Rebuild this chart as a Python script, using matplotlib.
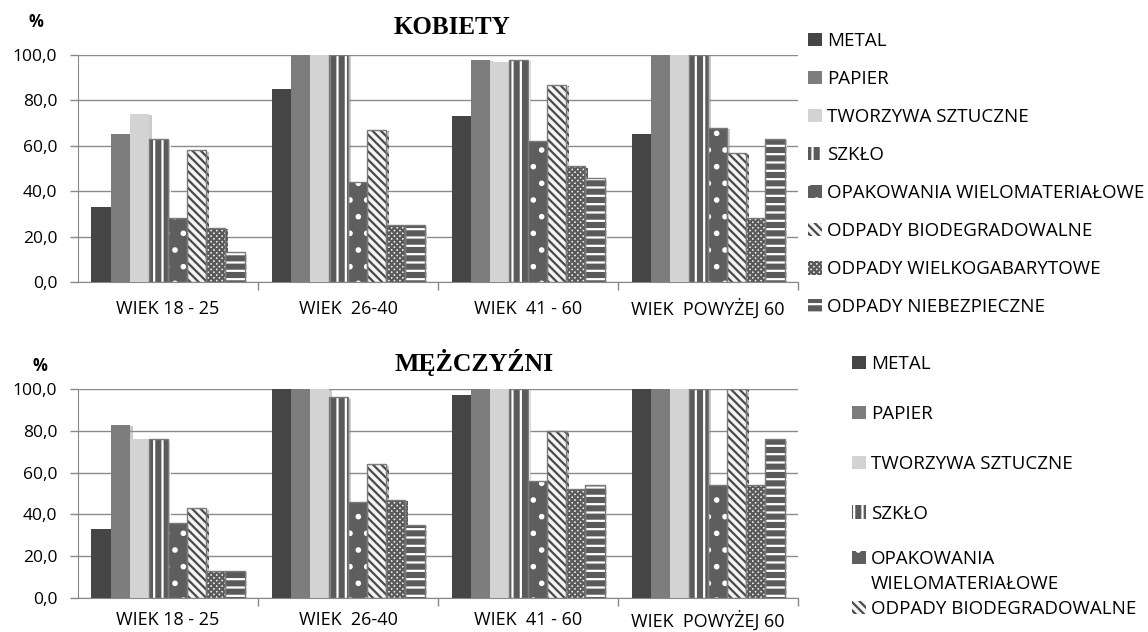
import matplotlib
matplotlib.use("Agg")
import matplotlib.pyplot as plt
import matplotlib.patheffects as pe
from matplotlib.patches import Patch
from matplotlib.ticker import FuncFormatter, FixedLocator
import numpy as np

plt.rcParams['font.family'] = ['Open Sans', 'DejaVu Sans']
plt.rcParams['hatch.linewidth'] = 1.6

categories = ["WIEK 18 - 25", "WIEK  26-40", "WIEK  41 - 60", "WIEK  POWYŻEJ 60"]
series = ["METAL", "PAPIER", "TWORZYWA SZTUCZNE", "SZKŁO",
          "OPAKOWANIA WIELOMATERIAŁOWE", "ODPADY BIODEGRADOWALNE",
          "ODPADY WIELKOGABARYTOWE", "ODPADY NIEBEZPIECZNE"]

# values per series, across the four age groups
kobiety = {
    "METAL":                       [33, 85, 73, 65],
    "PAPIER":                      [65, 100, 98, 100],
    "TWORZYWA SZTUCZNE":           [74, 100, 97, 100],
    "SZKŁO":                       [63, 100, 98, 100],
    "OPAKOWANIA WIELOMATERIAŁOWE": [28, 44, 62, 68],
    "ODPADY BIODEGRADOWALNE":      [58, 67, 87, 57],
    "ODPADY WIELKOGABARYTOWE":     [24, 25, 51, 28],
    "ODPADY NIEBEZPIECZNE":        [13, 25, 46, 63],
}
mezczyzni = {
    "METAL":                       [33, 100, 97, 100],
    "PAPIER":                      [83, 100, 100, 100],
    "TWORZYWA SZTUCZNE":           [76, 100, 100, 100],
    "SZKŁO":                       [76, 96, 100, 100],
    "OPAKOWANIA WIELOMATERIAŁOWE": [36, 46, 56, 54],
    "ODPADY BIODEGRADOWALNE":      [43, 64, 80, 100],
    "ODPADY WIELKOGABARYTOWE":     [13, 47, 52, 54],
    "ODPADY NIEBEZPIECZNE":        [13, 35, 54, 76],
}
yticks = [0, 20, 40, 60, 80, 100]

# style: face, hatch, hatch color
styles = {
    "METAL":                       ("#454545", None, None),
    "PAPIER":                      ("#7d7d7d", None, None),
    "TWORZYWA SZTUCZNE":           ("#d3d3d3", None, None),
    "SZKŁO":                       ("#5a5a5a", "||", "white"),
    "OPAKOWANIA WIELOMATERIAŁOWE": ("#5e5e5e", ".", "white"),
    "ODPADY BIODEGRADOWALNE":      ("#f4f4f4", "\\\\\\\\", "#4a4a4a"),
    "ODPADY WIELKOGABARYTOWE":     ("#f0f0f0", "xxxxxx", "#5a5a5a"),
    "ODPADY NIEBEZPIECZNE":        ("#5a5a5a", "--", "white"),
}

fig = plt.figure(figsize=(11.48, 6.32), dpi=100)
W, H = 1148, 632

def draw(ax, data, xpad):
    x = np.arange(len(categories))
    n = len(series)
    bw = 0.85 / n
    shadow = [pe.SimplePatchShadow(offset=(2, -1), shadow_rgbFace="#999999", alpha=0.5), pe.Normal()]
    for i, s in enumerate(series):
        face, hatch, hc = styles[s]
        pos = x - 0.425 + bw * (i + 0.5)
        if hatch is None:
            ax.bar(pos, data[s], width=bw, color=face, edgecolor="none",
                   zorder=3, path_effects=shadow)
        else:
            ax.bar(pos, data[s], width=bw, color=face, edgecolor=hc, hatch=hatch,
                   linewidth=0, zorder=3, path_effects=shadow)
            ax.bar(pos, data[s], width=bw, fill=False, edgecolor="#7a7a7a",
                   linewidth=1.0, zorder=4)
    ax.set_xlim(-0.5, len(categories) - 0.5)
    ax.set_ylim(0, 100)
    ax.set_yticks(yticks)
    ax.yaxis.set_major_formatter(FuncFormatter(lambda v, p: f"{v:.1f}".replace(".", ",")))
    ax.set_xticks(x)
    ax.set_xticklabels(categories, fontsize=13)
    ax.xaxis.set_minor_locator(FixedLocator([0.5, 1.5, 2.5, 3.5]))
    ax.tick_params(axis="x", which="major", length=0, pad=xpad)
    ax.tick_params(axis="x", which="minor", length=6, color="#888888", width=1)
    ax.tick_params(axis="y", length=6, color="#888888", width=1, labelsize=12.5, pad=9)
    ax.grid(axis="y", color="#8a8a8a", linewidth=1.0, zorder=0)
    ax.set_axisbelow(True)
    for sp in ["top", "right"]:
        ax.spines[sp].set_visible(False)
    ax.spines["left"].set_color("#888888")
    ax.spines["bottom"].set_color("#888888")

ax1 = fig.add_axes([78 / W, 1 - 282 / H, (798 - 78) / W, (282 - 55) / H])
draw(ax1, kobiety, 13)
ax2 = fig.add_axes([78 / W, 1 - 598 / H, (798 - 78) / W, (598 - 389) / H])
draw(ax2, mezczyzni, 9.5)

fig.text(452 / W, 1 - 27 / H, "KOBIETY", family="Liberation Serif", fontweight="bold",
         fontsize=18, ha="center", va="center")
fig.text(474 / W, 1 - 363 / H, "MĘŻCZYŹNI", family="Liberation Serif", fontweight="bold",
         fontsize=18.5, ha="center", va="center")
fig.text(36 / W, 1 - 22 / H, "%", fontsize=12, fontweight="bold", ha="center", va="center")
fig.text(40 / W, 1 - 366 / H, "%", fontsize=12, fontweight="bold", ha="center", va="center")

def handles(names, labels):
    hs = []
    for s, lab in zip(names, labels):
        if s is None:
            hs.append(Patch(facecolor="none", edgecolor="none", label=lab))
            continue
        face, hatch, hc = styles[s]
        if hatch is None:
            hs.append(Patch(facecolor=face, edgecolor="none", label=lab))
        else:
            hs.append(Patch(facecolor=face, edgecolor=hc, hatch=hatch, linewidth=0, label=lab))
    return hs

LFS = 13.5
common = dict(loc="upper left", frameon=False, fontsize=LFS, handlelength=0.72,
              handleheight=0.72, handletextpad=0.3, borderpad=0, borderaxespad=0)
fig.legend(handles=handles(series, series), bbox_to_anchor=(808 / W, 1 - 32 / H),
           labelspacing=1.07, **common)
fig.legend(handles=handles(series[:4], series[:4]), bbox_to_anchor=(852 / W, 1 - 355 / H),
           labelspacing=1.7, **common)
fig.legend(handles=handles([series[4], None, series[5]],
                           ["OPAKOWANIA", "WIELOMATERIAŁOWE", series[5]]),
           bbox_to_anchor=(852 / W, 1 - 550 / H), labelspacing=0.38, **common)

fig.savefig("out.png", dpi=100)
